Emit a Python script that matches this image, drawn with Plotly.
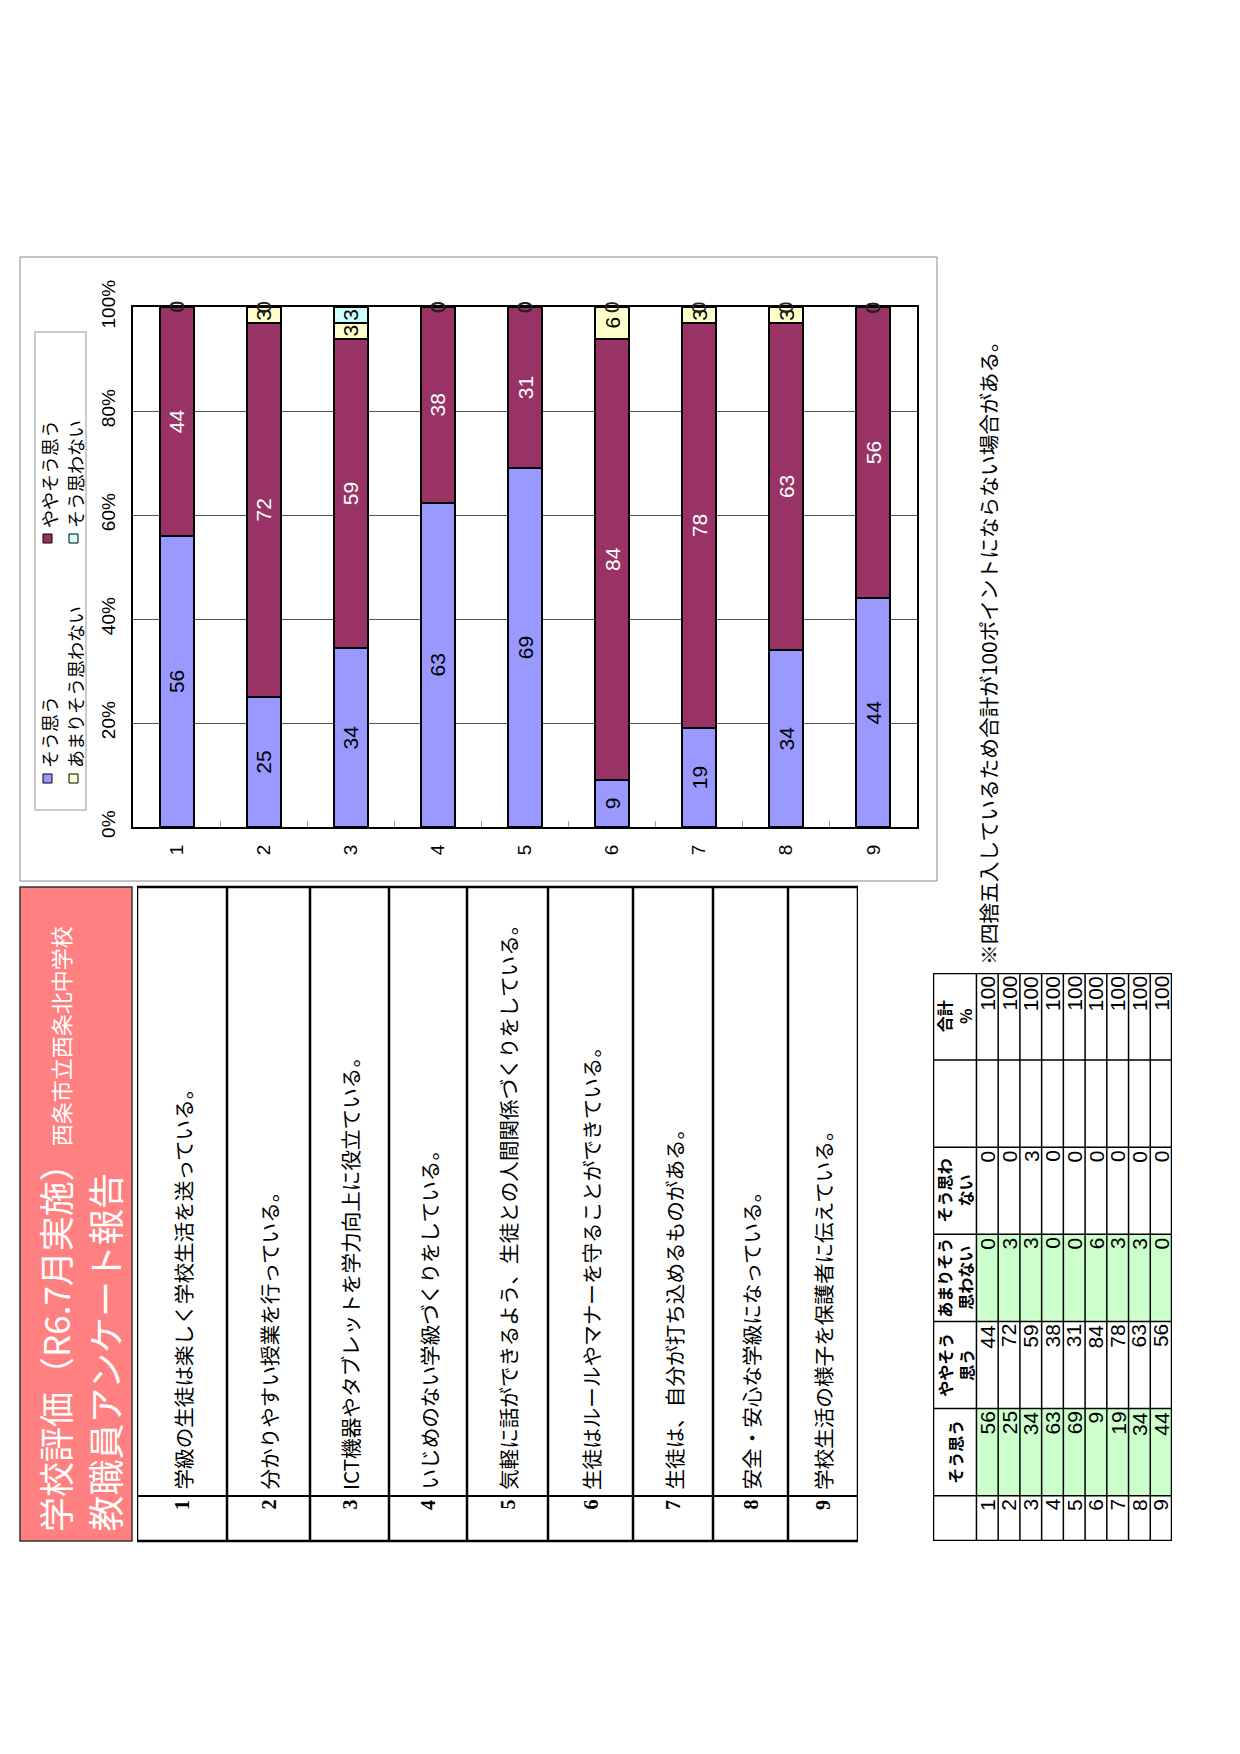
import plotly.graph_objects as go

W, H = 1240, 1754

# ---------------- data ----------------
categories = ["1", "2", "3", "4", "5", "6", "7", "8", "9"]
series_names = ["そう思う", "ややそう思う", "あまりそう思わない", "そう思わない"]
sou_omou = [56, 25, 34, 63, 69, 9, 19, 34, 44]
yaya_sou_omou = [44, 72, 59, 38, 31, 84, 78, 63, 56]
amari_sou_omowanai = [0, 3, 3, 0, 0, 6, 3, 3, 0]
sou_omowanai = [0, 0, 3, 0, 0, 0, 0, 0, 0]
total_pct = [100, 100, 100, 100, 100, 100, 100, 100, 100]
y_ticks = [0, 20, 40, 60, 80, 100]
y_tick_labels = ["0%", "20%", "40%", "60%", "80%", "100%"]

questions = [
    "学級の生徒は楽しく学校生活を送っている。",
    "分かりやすい授業を行っている。",
    "ICT機器やタブレットを学力向上に役立ている。",
    "いじめのない学級づくりをしている。",
    "気軽に話ができるよう、生徒との人間関係づくりをしている。",
    "生徒はルールやマナーを守ることができている。",
    "生徒は、自分が打ち込めるものがある。",
    "安全・安心な学級になっている。",
    "学校生活の様子を保護者に伝えている。",
]
title_main = "学校評価（R6.7月実施）"
school_name = "西条市立西条北中学校"
title_sub = "教職員アンケート報告"
footnote = "※四捨五入しているため合計が100ポイントにならない場合がある。"
table_headers = ["", "そう思う", "ややそう<br>思う", "あまりそう<br>思わない",
                 "そう思わ<br>ない", "", "合計<br>%"]

# ---------------- styles / layout constants ----------------
colors = ["#9999FF", "#993366", "#FFFFCC", "#CCFFFF"]
text_colors = ["black", "white", "black", "black"]
NUM = "Liberation Sans Narrow, Arial Narrow, Liberation Sans, Arial, sans-serif"
JP = "Noto Sans CJK JP, sans-serif"
SERIF = "Liberation Serif, Times New Roman, serif"

q_row_weights = [90, 83, 79, 78, 81, 85, 80, 75, 70]   # relative widths of question rows
table_col_weights = [0.52, 1, 1, 1, 1, 1, 1]           # relative widths of data-table columns
green_cols = [1, 3]


def px(x):
    return x / W


def py(y):
    return 1 - y / H


fig = go.Figure()

# ---------------- stacked 100% bars ----------------
series = [sou_omou, yaya_sou_omou, amari_sou_omowanai, sou_omowanai]
for name, vals, col, tcol in zip(series_names, series, colors, text_colors):
    fig.add_trace(go.Bar(
        x=categories, y=vals, name=name,
        marker=dict(color=col, line=dict(color="black", width=2)),
        text=[str(v) if v else "" for v in vals],
        textposition="inside", insidetextanchor="middle", textangle=-90,
        textfont=dict(family=NUM, size=21, color=tcol),
        showlegend=False, hoverinfo="x+y+name",
    ))

annotations = []
shapes = []

# zero-value labels at top of stacks (x given as category index)
for j, cat in enumerate(categories):
    tot = sum(s[j] for s in series)
    cum = 0
    for s in series:
        cum += s[j]
        if s[j] == 0:
            annotations.append(dict(
                x=j, y=cum / tot * 100, xref="x", yref="y", text="0",
                showarrow=False, textangle=-90, xanchor="center", yanchor="middle",
                font=dict(family=NUM, size=21, color="#222")))

# chart frame
shapes.append(dict(type="rect", xref="paper", yref="paper",
                   x0=px(20), x1=px(937), y0=py(881), y1=py(257),
                   line=dict(color="#888", width=1), layer="below"))

# legend (drawn rotated)
shapes.append(dict(type="rect", xref="paper", yref="paper",
                   x0=px(35), x1=px(86), y0=py(810), y1=py(332),
                   line=dict(color="#bbb", width=1.5)))
leg_pos = [(48, 778), (48, 538), (74, 778), (74, 538)]
for (lx, ly), name, col in zip(leg_pos, series_names, colors):
    shapes.append(dict(type="rect", xref="paper", yref="paper",
                       x0=px(lx - 5), x1=px(lx + 4), y0=py(ly + 5), y1=py(ly - 4),
                       fillcolor=col, line=dict(color="black", width=1)))
    annotations.append(dict(x=px(lx + 1), y=py(ly - 8), xref="paper", yref="paper",
                            text=name, showarrow=False, textangle=-90,
                            xanchor="center", yanchor="bottom",
                            font=dict(family=JP, size=18, color="black")))

# ---------------- title box ----------------
shapes.append(dict(type="rect", xref="paper", yref="paper",
                   x0=px(20), x1=px(132), y0=py(1541), y1=py(887),
                   fillcolor="#FF8080", line=dict(color="#333", width=1.5)))
annotations.append(dict(
    x=px(54), y=py(1534), xref="paper", yref="paper",
    text=title_main + "<span style='font-size:22px'>" + school_name + "</span>",
    showarrow=False, textangle=-90, xanchor="center", yanchor="bottom",
    font=dict(family=JP, size=35, color="white")))
annotations.append(dict(
    x=px(103), y=py(1534), xref="paper", yref="paper", text=title_sub,
    showarrow=False, textangle=-90, xanchor="center", yanchor="bottom",
    font=dict(family=JP, size=36, color="white")))

# ---------------- questions table (axis x3) ----------------
q_bounds = [0]
for w in q_row_weights:
    q_bounds.append(q_bounds[-1] + w)
shapes.append(dict(type="rect", xref="x3", yref="paper",
                   x0=q_bounds[0], x1=q_bounds[-1], y0=py(1541), y1=py(887),
                   line=dict(color="black", width=2.5)))
for b in q_bounds[1:-1]:
    shapes.append(dict(type="line", xref="x3", yref="paper",
                       x0=b, x1=b, y0=py(1541), y1=py(887),
                       line=dict(color="black", width=2.5)))
shapes.append(dict(type="line", xref="x3", yref="paper",
                   x0=q_bounds[0], x1=q_bounds[-1], y0=py(1496), y1=py(1496),
                   line=dict(color="black", width=2)))
for i, q in enumerate(questions):
    cx = (q_bounds[i] + q_bounds[i + 1]) / 2
    annotations.append(dict(x=cx, y=py(1492), xref="x3", yref="paper", text=q,
                            showarrow=False, textangle=-90, xanchor="center",
                            yanchor="bottom",
                            font=dict(family=JP, size=20.6, color="black")))
    annotations.append(dict(x=cx, y=py(1498), xref="x3", yref="paper",
                            text="<b>" + categories[i] + "</b>",
                            showarrow=False, textangle=-90, xanchor="center",
                            yanchor="top", font=dict(family=SERIF, size=20, color="black")))

# ---------------- data table (axes x2 / y2) ----------------
t_bounds = [0]
for w in table_col_weights:
    t_bounds.append(t_bounds[-1] + w)
n_rows = len(categories)
x_end = 2 + n_rows
table_cols = [categories, sou_omou, yaya_sou_omou, amari_sou_omowanai,
              sou_omowanai, ["" for _ in categories], total_pct]
for c in green_cols:
    shapes.append(dict(type="rect", xref="x2", yref="y2", x0=2, x1=x_end,
                       y0=t_bounds[c], y1=t_bounds[c + 1],
                       fillcolor="#CCFFCC", line=dict(width=0), layer="below"))
for r in range(2, x_end):
    shapes.append(dict(type="line", xref="x2", yref="y2", x0=r, x1=r,
                       y0=t_bounds[0], y1=t_bounds[-1],
                       line=dict(color="black", width=1.5)))
for b in t_bounds[1:-1]:
    shapes.append(dict(type="line", xref="x2", yref="y2", x0=0, x1=x_end,
                       y0=b, y1=b, line=dict(color="black", width=1.5)))
shapes.append(dict(type="rect", xref="x2", yref="y2", x0=0, x1=x_end,
                   y0=t_bounds[0], y1=t_bounds[-1],
                   line=dict(color="black", width=2.5)))
for c, (hdr, col_vals) in enumerate(zip(table_headers, table_cols)):
    if hdr:
        annotations.append(dict(x=1, y=(t_bounds[c] + t_bounds[c + 1]) / 2,
                                xref="x2", yref="y2", text="<b>" + hdr + "</b>",
                                showarrow=False, textangle=-90, align="center",
                                xanchor="center", yanchor="middle",
                                font=dict(family=JP, size=16, color="black")))
    for r, v in enumerate(col_vals):
        if v == "":
            continue
        annotations.append(dict(x=2.5 + r, y=t_bounds[c + 1], xref="x2", yref="y2",
                                text=str(v), showarrow=False, textangle=-90,
                                xanchor="center", yanchor="top", yshift=-1,
                                font=dict(family=NUM, size=21, color="black")))

# footnote
annotations.append(dict(x=px(988), y=py(967), xref="paper", yref="paper", text=footnote,
                        showarrow=False, textangle=-90, xanchor="center", yanchor="bottom",
                        font=dict(family=JP, size=20.7, color="black")))

hidden = dict(visible=False, fixedrange=True, automargin=False)
fig.update_layout(
    template="none",
    width=W, height=H, margin=dict(l=0, r=0, t=0, b=0, pad=0), autosize=False,
    paper_bgcolor="white", plot_bgcolor="white",
    barmode="stack", barnorm="percent", bargap=0.61,
    uniformtext=dict(mode="show", minsize=21),
    showlegend=False,
    xaxis=dict(domain=[px(133), px(917)], type="category", tickangle=-90,
               range=[-0.5, len(categories) - 0.5], automargin=False,
               ticks="inside", tickson="boundaries", ticklen=6, tickcolor="#999",
               showline=True, linecolor="black", linewidth=2, mirror=True,
               showgrid=False, ticklabelstandoff=8, fixedrange=True,
               tickfont=dict(family=NUM, size=19, color="black")),
    yaxis=dict(domain=[py(827), py(307)], range=[0, 100], tickmode="array",
               tickvals=y_ticks, ticktext=y_tick_labels, automargin=False,
               tickangle=-90, showgrid=True, gridcolor="#555", fixedrange=True,
               gridwidth=1, zeroline=False, showline=True, linecolor="black",
               linewidth=2, mirror=True, ticks="", ticklabelstandoff=8,
               tickfont=dict(family=NUM, size=19, color="black")),
    xaxis2=dict(domain=[px(933), px(1172)], range=[0, x_end], anchor="y2", **hidden),
    yaxis2=dict(domain=[py(1541), py(973)], range=[0, t_bounds[-1]], anchor="x2", **hidden),
    xaxis3=dict(domain=[px(137), px(858)], range=[0, q_bounds[-1]], anchor="y3", **hidden),
    yaxis3=dict(domain=[py(1541), py(887)], range=[0, 1], anchor="x3", **hidden),
    annotations=annotations, shapes=shapes,
)

fig.write_html("out.html", config={"displayModeBar": False},
               post_script="document.body.style.margin='0';")
